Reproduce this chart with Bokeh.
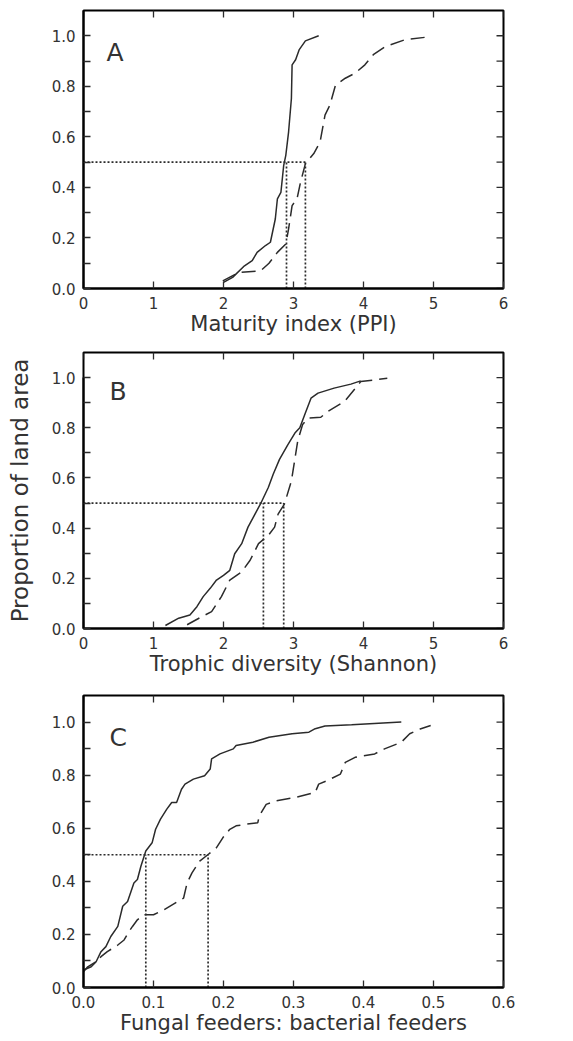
import math
from bokeh.plotting import figure
from bokeh.models import Range1d, FixedTicker, PrintfTickFormatter, Label
from bokeh.layouts import column
from bokeh.embed import file_html
from bokeh.resources import INLINE

# ---------------- Panel A: Maturity index (PPI) ----------------
a_solid_x = [2.00, 2.13, 2.30, 2.41, 2.48, 2.60, 2.67, 2.74, 2.77, 2.82, 2.86, 2.89,
             2.93, 2.97, 2.98, 3.03, 3.08, 3.17, 3.36]
a_solid_y = [0.024, 0.044, 0.09, 0.11, 0.143, 0.17, 0.183, 0.275, 0.355, 0.38, 0.487, 0.527,
             0.62, 0.752, 0.885, 0.905, 0.944, 0.98, 1.0]
a_dash_x = [1.99, 2.22, 2.53, 2.65, 2.77, 2.89, 2.93, 2.98, 3.05, 3.10, 3.17, 3.29, 3.38,
            3.45, 3.52, 3.60, 3.74, 3.88, 4.02, 4.14, 4.31, 4.59, 4.97]
a_dash_y = [0.03, 0.064, 0.07, 0.10, 0.143, 0.176, 0.236, 0.328, 0.355, 0.42, 0.494, 0.534, 0.58,
            0.686, 0.726, 0.805, 0.832, 0.852, 0.885, 0.925, 0.957, 0.984, 0.997]
a_medians = [2.90, 3.17]

# ---------------- Panel B: Trophic diversity (Shannon) ----------------
b_solid_x = [1.17, 1.36, 1.52, 1.62, 1.71, 1.81, 1.90, 2.00, 2.09, 2.16, 2.26, 2.35, 2.45,
             2.54, 2.64, 2.71, 2.80, 2.92, 3.02, 3.09, 3.16, 3.25, 3.35, 3.58, 3.82, 3.96]
b_solid_y = [0.012, 0.041, 0.054, 0.087, 0.127, 0.16, 0.193, 0.212, 0.232, 0.298, 0.338, 0.404,
             0.456, 0.503, 0.562, 0.615, 0.674, 0.733, 0.779, 0.80, 0.852, 0.918, 0.938, 0.958,
             0.974, 0.987]
b_dash_x = [1.48, 1.69, 1.83, 1.97, 2.09, 2.26, 2.38, 2.50, 2.64, 2.73, 2.78, 2.87, 2.97,
            3.06, 3.13, 3.21, 3.39, 3.49, 3.73, 3.96, 4.34]
b_dash_y = [0.015, 0.047, 0.067, 0.127, 0.193, 0.226, 0.272, 0.338, 0.371, 0.404, 0.456, 0.496,
            0.588, 0.747, 0.813, 0.839, 0.842, 0.865, 0.905, 0.984, 0.997]
b_medians = [2.57, 2.86]

# ---------------- Panel C: Fungal feeders : bacterial feeders ----------------
c_solid_x = [0.000, 0.006, 0.018, 0.025, 0.032, 0.039, 0.049, 0.056, 0.063, 0.072, 0.077,
             0.082, 0.089, 0.098, 0.103, 0.110, 0.119, 0.126, 0.133, 0.140, 0.145, 0.157,
             0.173, 0.181, 0.183, 0.195, 0.214, 0.218, 0.242, 0.265, 0.298, 0.322, 0.331,
             0.345, 0.383, 0.454]
c_solid_y = [0.059, 0.078, 0.097, 0.135, 0.154, 0.192, 0.23, 0.306, 0.324, 0.394, 0.407,
             0.457, 0.514, 0.545, 0.596, 0.634, 0.672, 0.697, 0.697, 0.747, 0.766, 0.785,
             0.798, 0.823, 0.861, 0.88, 0.899, 0.912, 0.924, 0.943, 0.956, 0.962, 0.975,
             0.985, 0.99, 1.0]
c_dash_x = [0.000, 0.011, 0.025, 0.034, 0.049, 0.058, 0.065, 0.070, 0.077, 0.086, 0.100,
            0.115, 0.143, 0.148, 0.155, 0.166, 0.178, 0.190, 0.199, 0.209, 0.218, 0.232,
            0.249, 0.251, 0.261, 0.275, 0.303, 0.331, 0.336, 0.348, 0.367, 0.374, 0.388,
            0.416, 0.430, 0.454, 0.466, 0.482, 0.496]
c_dash_y = [0.066, 0.078, 0.116, 0.135, 0.16, 0.179, 0.211, 0.23, 0.255, 0.274, 0.274,
            0.293, 0.337, 0.394, 0.432, 0.476, 0.501, 0.527, 0.564, 0.596, 0.609, 0.615,
            0.621, 0.646, 0.69, 0.703, 0.716, 0.735, 0.766, 0.779, 0.804, 0.848, 0.867,
            0.88, 0.899, 0.924, 0.956, 0.975, 0.987]
c_medians = [0.089, 0.178]

y_major = [0.0, 0.2, 0.4, 0.6, 0.8, 1.0]
y_minor = [0.1, 0.3, 0.5, 0.7, 0.9]
ab_xticks = [0, 1, 2, 3, 4, 5, 6]
c_xticks = [0.0, 0.1, 0.2, 0.3, 0.4, 0.5, 0.6]

FONT = "DejaVu Sans"
INK = "#2b2b2b"
TXT = "#333333"
YMAX = 1.1


def style_axis(ax, ticks, fmt, minor=None):
    ax.ticker = FixedTicker(ticks=ticks, minor_ticks=minor or [])
    ax.axis_line_color = "black"
    ax.axis_line_width = 2
    ax.major_tick_in = 7
    ax.major_tick_out = 0
    ax.minor_tick_in = 7
    ax.minor_tick_out = 0
    ax.major_tick_line_color = INK
    ax.minor_tick_line_color = INK
    ax.major_tick_line_width = 1.3
    ax.minor_tick_line_width = 1.3
    ax.formatter = PrintfTickFormatter(format=fmt)
    ax.major_label_text_font = FONT
    ax.major_label_text_font_size = "15px"
    ax.major_label_text_color = TXT
    ax.major_label_standoff = 8


def panel(sx, sy, dx, dy, med, xmax, xticks, xfmt, xlabel, letter, lx, ly,
          height, bl, br, bt, bb):
    p = figure(width=573, height=height, output_backend="svg", toolbar_location=None,
               x_range=Range1d(0, xmax), y_range=Range1d(0, YMAX),
               min_border_left=bl, min_border_right=br, min_border_top=bt,
               min_border_bottom=bb)
    p.grid.visible = False
    p.outline_line_color = "black"
    p.outline_line_width = 2
    p.background_fill_color = "white"
    p.border_fill_color = "white"

    xa = p.xaxis[0]
    ya = p.yaxis[0]
    style_axis(xa, xticks, xfmt)
    style_axis(ya, y_major, "%.1f", y_minor)
    xa.axis_label = xlabel
    xa.axis_label_text_font = FONT
    xa.axis_label_text_font_size = "21px"
    xa.axis_label_text_font_style = "normal"
    xa.axis_label_text_color = TXT
    xa.axis_label_standoff = 0

    # inward ticks on top and right edges of the frame (clipped half-markers)
    p.scatter(x=xticks, y=[YMAX] * len(xticks), marker="dash", size=14,
              angle=math.pi / 2, line_color=INK, line_width=1.3)
    yall = y_major + y_minor
    p.scatter(x=[xmax] * len(yall), y=yall, marker="dash", size=14,
              line_color=INK, line_width=1.3)

    # median guides (dotted)
    p.line([0, max(med)], [0.5, 0.5], line_color=INK, line_width=1.7, line_dash="2 2")
    p.segment(x0=med, y0=[0.0] * len(med), x1=med, y1=[0.5] * len(med),
              line_color=INK, line_width=1.7, line_dash="2 2")

    p.line(sx, sy, line_color=INK, line_width=1.5)
    p.line(dx, dy, line_color=INK, line_width=1.5, line_dash="14 7")

    p.add_layout(Label(x=lx, y=ly, text=letter, text_font=FONT, text_font_size="25px",
                       text_color=TXT, text_baseline="alphabetic", text_align="left"))
    return p


pa = panel(a_solid_x, a_solid_y, a_dash_x, a_dash_y, a_medians, 6, ab_xticks, "%d",
           "Maturity index (PPI)", "A", 0.33, 0.935, 338, 83, 67, 10, 49)
pb = panel(b_solid_x, b_solid_y, b_dash_x, b_dash_y, b_medians, 6, ab_xticks, "%d",
           "Trophic diversity (Shannon)", "B", 0.37, 0.945, 340, 81, 70, 14, 49)
yb = pb.yaxis[0]
yb.bounds = (0, 1.0)
yb.axis_label = "Proportion of land area"
yb.axis_label_text_font = FONT
yb.axis_label_text_font_size = "23px"
yb.axis_label_text_font_style = "normal"
yb.axis_label_text_color = TXT
yb.axis_label_standoff = 16
pc = panel(c_solid_x, c_solid_y, c_dash_x, c_dash_y, c_medians, 0.6, c_xticks, "%.1f",
           "Fungal feeders: bacterial feeders", "C", 0.037, 0.94, 363, 79, 70, 17, 54)

layout = column(pa, pb, pc)
open("out.html", "w").write(file_html(layout, INLINE))
